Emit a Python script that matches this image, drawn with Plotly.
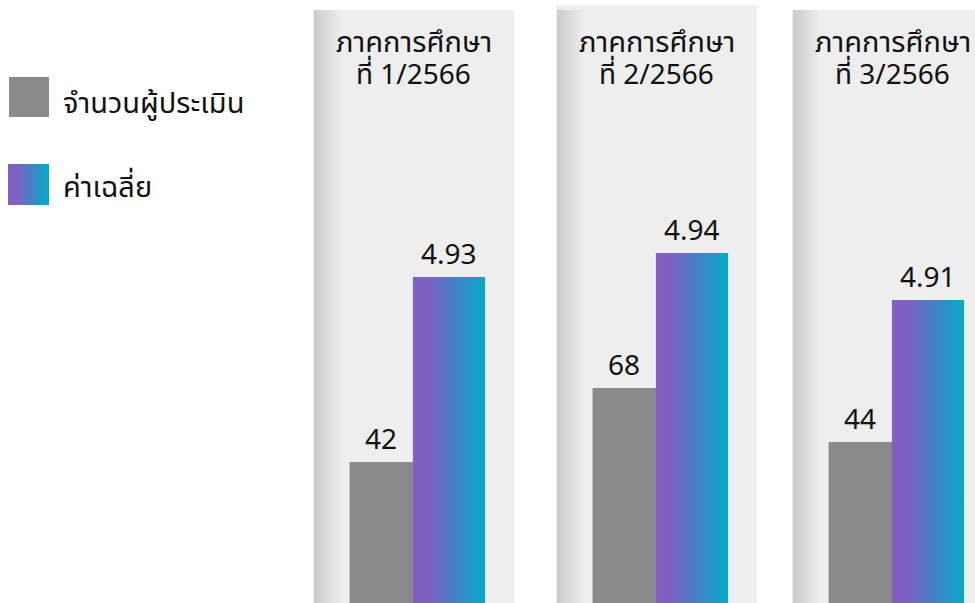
import plotly.graph_objects as go

# ---- data ----
semesters = ["ภาคการศึกษา<br>ที่ 1/2566", "ภาคการศึกษา<br>ที่ 2/2566", "ภาคการศึกษา<br>ที่ 3/2566"]
counts = [42, 68, 44]
averages = [4.93, 4.94, 4.91]
series_names = ["จำนวนผู้ประเมิน", "ค่าเฉลี่ย"]

# ---- style / layout ----
W, H = 975, 603
FONT = "Noto Sans Thai, Noto Sans, sans-serif"
GRAY = "#8a8a8a"
PURPLE = "#8060c0"
CYAN = "#02aac9"
BG = "#eeeeee"
TXT = "#111111"

panel_left = [313, 556, 792]
panel_top = [10, 5, 10]
PANEL_W = 201
count_max = [176.6, 189.1, 162.1]
avg_max = [8.97, 8.44, 9.61]

fig = go.Figure()
shapes = []
annotations = []


def mix(c1, c2, t):
    a = [int(c1[i:i + 2], 16) for i in (1, 3, 5)]
    b = [int(c2[i:i + 2], 16) for i in (1, 3, 5)]
    return "#%02x%02x%02x" % tuple(round(a[k] + (b[k] - a[k]) * t) for k in range(3))


layout_axes = {}
for p in range(3):
    L = panel_left[p]
    R = min(L + PANEL_W, W)
    top = panel_top[p]
    xn = "" if p == 0 else str(p + 1)
    yc = "" if p == 0 else str(2 * p + 1)
    ya = str(2 * p + 2)
    ydom_top = (H - top) / H
    layout_axes["xaxis" + xn] = dict(domain=[L / W, R / W], range=[p - 0.5, p - 0.5 + (R - L) / PANEL_W],
                                     visible=False, fixedrange=True)
    layout_axes["yaxis" + yc] = dict(domain=[0, ydom_top], range=[0, count_max[p]], visible=False,
                                     anchor="x" + xn, fixedrange=True)
    layout_axes["yaxis" + ya] = dict(domain=[0, ydom_top], range=[0, avg_max[p]], visible=False,
                                     anchor="x" + xn, overlaying="y" + yc, fixedrange=True)

    # panel background
    shapes.append(dict(type="rect", xref="paper", yref="paper", x0=L / W, x1=R / W,
                       y0=0, y1=(H - top) / H, fillcolor=BG, line_width=0, layer="below"))
    # left-edge shading
    n = 28
    for i in range(n):
        x0 = L + 1 + i
        shapes.append(dict(type="rect", xref="paper", yref="paper", x0=x0 / W, x1=(x0 + 1) / W,
                           y0=0, y1=(H - 10) / H, fillcolor=mix("#cbcbcb", BG, i / (n - 1)),
                           line_width=0, layer="below"))

    # count bar
    fig.add_trace(go.Bar(x=[p], y=[counts[p]], width=[0.316], offset=[-0.318],
                         marker=dict(color=GRAY, line_width=0), name=series_names[0],
                         showlegend=False, xaxis="x" + xn, yaxis="y" + yc, hoverinfo="skip"))
    # average bar (gradient-filled rectangle built from the value)
    a, b = p - 0.003, p + 0.356
    v = averages[p]
    fig.add_trace(go.Scatter(x=[a, a, b, b, a], y=[0, v, v, 0, 0], mode="lines", fill="toself",
                             line=dict(width=0, color=PURPLE),
                             fillgradient=dict(type="horizontal",
                                               colorscale=[[0, PURPLE], [0.22, "#7d60c0"], [1, CYAN]]),
                             name=series_names[1], showlegend=False,
                             xaxis="x" + xn, yaxis="y" + ya, hoverinfo="skip"))

    # value labels
    annotations.append(dict(xref="x" + xn, yref="y" + yc, x=p - 0.16, y=counts[p], text=str(counts[p]),
                            showarrow=False, yanchor="bottom", yshift=-2,
                            font=dict(size=28, color=TXT, family=FONT)))
    annotations.append(dict(xref="x" + xn, yref="y" + ya, x=p + 0.177, y=v, text=f"{v:.2f}",
                            showarrow=False, yanchor="bottom", yshift=-2,
                            font=dict(size=28, color=TXT, family=FONT)))
    # semester title (two lines)
    line1, line2 = semesters[p].split("<br>")
    cx = (L + PANEL_W / 2) / W
    annotations.append(dict(xref="paper", yref="paper", x=cx, y=(H - 43) / H, text=line1,
                            showarrow=False, xanchor="center", yanchor="middle",
                            font=dict(size=29, color=TXT, family=FONT)))
    annotations.append(dict(xref="paper", yref="paper", x=cx, y=(H - 75) / H, text=line2,
                            showarrow=False, xanchor="center", yanchor="middle",
                            font=dict(size=28, color=TXT, family=FONT)))

# legend
shapes.append(dict(type="rect", xref="paper", yref="paper", x0=9 / W, x1=49 / W,
                   y0=(H - 117) / H, y1=(H - 77) / H, fillcolor=GRAY, line_width=0))
n = 41
for i in range(n):
    x0 = 8 + i
    t = max(0, (i / (n - 1) - 0.2) / 0.8)
    shapes.append(dict(type="rect", xref="paper", yref="paper", x0=x0 / W, x1=(x0 + 1) / W,
                       y0=(H - 205) / H, y1=(H - 164) / H, fillcolor=mix(PURPLE, CYAN, t), line_width=0))
for name, yc in zip(series_names, [104, 188]):
    annotations.append(dict(xref="paper", yref="paper", x=61 / W, y=(H - yc) / H, text=name,
                            showarrow=False, xanchor="left", yanchor="middle",
                            font=dict(size=29, color=TXT, family=FONT)))

fig.update_layout(width=W, height=H, margin=dict(l=0, r=0, t=0, b=0),
                  paper_bgcolor="white", plot_bgcolor="rgba(0,0,0,0)",
                  barmode="overlay", showlegend=False, shapes=shapes, annotations=annotations,
                  font=dict(family=FONT), **layout_axes)

fig.write_html("out.html", config={"displayModeBar": False},
               post_script="document.body.style.margin='0';document.body.style.overflow='hidden';")
